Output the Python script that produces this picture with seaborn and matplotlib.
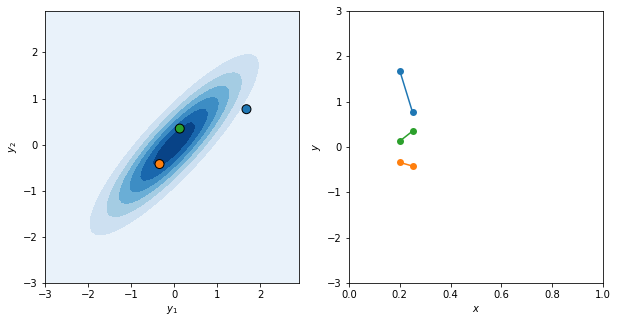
import numpy as np
import pandas as pd
import matplotlib
matplotlib.use("Agg")
import matplotlib.pyplot as plt
import seaborn as sns

# Gaussian model: mean and covariance of (y1, y2)
mean = [0.0, 0.0]
cov = [[1.0, 0.8825], [0.8825, 1.0]]

# Sample functions evaluated at two inputs
x_inputs = [0.2, 0.25]
sample_names = ["s1", "s2", "s3"]
sample_y_at_x1 = [1.68, -0.34, 0.13]
sample_y_at_x2 = [0.77, -0.42, 0.35]
sample_colors = ["#1f77b4", "#ff7f0e", "#2ca02c"]

W, H = 618, 323
dpi = 72
fig = plt.figure(figsize=(W / dpi, H / dpi), dpi=dpi)
ax1 = fig.add_axes([45 / W, (H - 283) / H, 254 / W, 272 / H])
ax2 = fig.add_axes([349 / W, (H - 283) / H, 254 / W, 272 / H])

# Left: density of bivariate normal
g = np.arange(-3, 3, 0.1)
Y1, Y2 = np.meshgrid(g, g)
C = np.array(cov)
Ci = np.linalg.inv(C)
d1 = Y1 - mean[0]
d2 = Y2 - mean[1]
Q = Ci[0, 0] * d1 ** 2 + 2 * Ci[0, 1] * d1 * d2 + Ci[1, 1] * d2 ** 2
Z = np.exp(-0.5 * Q) / (2 * np.pi * np.sqrt(np.linalg.det(C)))
ax1.contourf(Y1, Y2, Z, cmap="Blues")

pts = pd.DataFrame({"y1": sample_y_at_x1, "y2": sample_y_at_x2, "s": sample_names})
sns.scatterplot(data=pts, x="y1", y="y2", hue="s", palette=sample_colors, s=80,
                edgecolor="black", linewidth=1, legend=False, ax=ax1, zorder=3)
ax1.set_xlim(-3, 2.9)
ax1.set_ylim(-3, 2.9)
ax1.set_xticks([-3, -2, -1, 0, 1, 2])
ax1.set_yticks([-3, -2, -1, 0, 1, 2])
ax1.set_xlabel("$y_1$")
ax1.set_ylabel("$y_2$")

# Right: samples as short lines
rows = []
for n, a, b in zip(sample_names, sample_y_at_x1, sample_y_at_x2):
    rows.append({"x": x_inputs[0], "y": a, "s": n})
    rows.append({"x": x_inputs[1], "y": b, "s": n})
df = pd.DataFrame(rows)
sns.lineplot(data=df, x="x", y="y", hue="s", palette=sample_colors, marker="o",
             markersize=7, markeredgewidth=0, linewidth=1.5, legend=False, ax=ax2)
ax2.set_xlim(0, 1)
ax2.set_ylim(-3, 3)
ax2.set_xlabel("$x$")
ax2.set_ylabel("$y$")

fig.savefig("out.png", dpi=dpi)
